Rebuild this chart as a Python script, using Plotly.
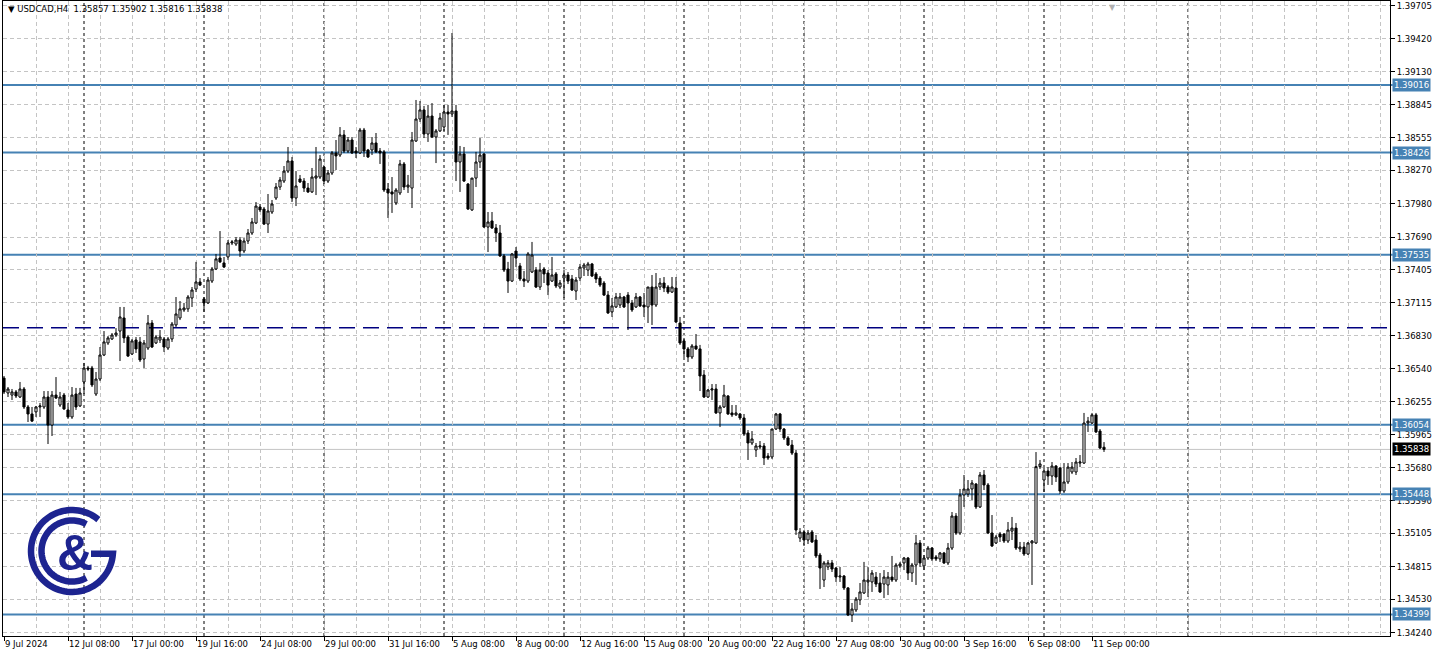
import numpy as np
import plotly.graph_objects as go

# ---------------- data (USDCAD H4) ----------------
opens = [
    1.36460, 1.36330, 1.36312, 1.36339, 1.36295, 1.36365, 1.36208, 1.36147, 1.36165, 1.36208,
    1.36208, 1.36295, 1.36050, 1.36312, 1.36225, 1.36312, 1.36182, 1.36121, 1.36321, 1.36217,
    1.36426, 1.36548, 1.36548, 1.36321, 1.36452, 1.36661, 1.36766, 1.36801, 1.36836, 1.36870,
    1.36984, 1.36818, 1.36670, 1.36792, 1.36775, 1.36626, 1.36722, 1.36940, 1.36766, 1.36792,
    1.36801, 1.36722, 1.36801, 1.36923, 1.36984, 1.37054, 1.37063, 1.37158, 1.37236, 1.37298,
    1.37150, 1.37115, 1.37306, 1.37411, 1.37507, 1.37464, 1.37516, 1.37638, 1.37629, 1.37664,
    1.37568, 1.37655, 1.37725, 1.37812, 1.37952, 1.37934, 1.37803, 1.37908, 1.38030, 1.38126,
    1.38178, 1.38265, 1.38353, 1.38030, 1.38196, 1.38178, 1.38117, 1.38083, 1.38204, 1.38213,
    1.38300, 1.38178, 1.38248, 1.38423, 1.38405, 1.38580, 1.38440, 1.38536, 1.38440, 1.38423,
    1.38623, 1.38449, 1.38449, 1.38510, 1.38440, 1.38432, 1.38109, 1.38083, 1.37987, 1.38074,
    1.38327, 1.38126, 1.38117, 1.38527, 1.38719, 1.38798, 1.38588, 1.38745, 1.38562, 1.38615,
    1.38649, 1.38780, 1.38763, 1.38789, 1.38344, 1.38414, 1.38152, 1.37926, 1.38204, 1.38344,
    1.38414, 1.37777, 1.37830, 1.37769, 1.37725, 1.37525, 1.37411, 1.37306, 1.37568, 1.37438,
    1.37324, 1.37306, 1.37385, 1.37402, 1.37254, 1.37411, 1.37376, 1.37306, 1.37368, 1.37254,
    1.37332, 1.37359, 1.37324, 1.37219, 1.37332, 1.37420, 1.37402, 1.37455, 1.37368, 1.37332,
    1.37289, 1.37184, 1.37037, 1.37080, 1.37097, 1.37167, 1.37184, 1.37115, 1.37080, 1.37167,
    1.37097, 1.37080, 1.37254, 1.37097, 1.37254, 1.37289, 1.37254, 1.37210, 1.37245, 1.36940,
    1.36784, 1.36714, 1.36644, 1.36740, 1.36714, 1.36487, 1.36295, 1.36356, 1.36365, 1.36156,
    1.36208, 1.36304, 1.36156, 1.36139, 1.36147, 1.36112, 1.35981, 1.35894, 1.35833, 1.35859,
    1.35868, 1.35780, 1.35772, 1.36016, 1.36147, 1.36016, 1.35938, 1.35876, 1.35806, 1.35065,
    1.35118, 1.35048, 1.35118, 1.35048, 1.34917, 1.34699, 1.34813, 1.34848, 1.34804, 1.34725,
    1.34734, 1.34630, 1.34394, 1.34438, 1.34525, 1.34586, 1.34682, 1.34682, 1.34725, 1.34673,
    1.34664, 1.34656, 1.34725, 1.34699, 1.34822, 1.34848, 1.34891, 1.34760, 1.34830, 1.35022,
    1.34822, 1.34891, 1.34978, 1.34900, 1.34883, 1.34935, 1.34848, 1.34978, 1.35257, 1.35109,
    1.35441, 1.35449, 1.35493, 1.35536, 1.35336, 1.35615, 1.35528, 1.35109, 1.35022, 1.35100,
    1.35100, 1.35039, 1.35126, 1.35152, 1.34970, 1.34987, 1.34926, 1.35022, 1.35022, 1.35688,
    1.35571, 1.35650, 1.35606, 1.35693, 1.35676, 1.35475, 1.35554, 1.35641, 1.35641, 1.35719,
    1.35719, 1.36068, 1.36068, 1.36139, 1.35998, 1.35857,
]
highs = [
    1.36478, 1.36382, 1.36365, 1.36356, 1.36426, 1.36382, 1.36225, 1.36208, 1.36217, 1.36243,
    1.36347, 1.36347, 1.36347, 1.36469, 1.36339, 1.36330, 1.36243, 1.36382, 1.36374, 1.36374,
    1.36592, 1.36566, 1.36566, 1.36513, 1.36731, 1.36870, 1.36827, 1.36853, 1.36896, 1.37080,
    1.37080, 1.36836, 1.36801, 1.36818, 1.36818, 1.36792, 1.37010, 1.36966, 1.36836, 1.36879,
    1.36818, 1.36818, 1.36949, 1.37167, 1.37132, 1.37115, 1.37184, 1.37254, 1.37473, 1.37332,
    1.37167, 1.37341, 1.37428, 1.37542, 1.37742, 1.37516, 1.37664, 1.37664, 1.37690, 1.37690,
    1.37681, 1.37760, 1.37856, 1.37995, 1.37978, 1.37952, 1.38065, 1.38013, 1.38161, 1.38213,
    1.38309, 1.38475, 1.38388, 1.38265, 1.38231, 1.38204, 1.38161, 1.38292, 1.38475, 1.38405,
    1.38309, 1.38274, 1.38440, 1.38536, 1.38649, 1.38623, 1.38562, 1.38562, 1.38475, 1.38641,
    1.38641, 1.38458, 1.38562, 1.38597, 1.38466, 1.38449, 1.38161, 1.38213, 1.38117, 1.38362,
    1.38344, 1.38231, 1.38606, 1.38885, 1.38876, 1.38833, 1.38842, 1.38858, 1.38632, 1.38772,
    1.38842, 1.38842, 1.39469, 1.38842, 1.38484, 1.38475, 1.38161, 1.38204, 1.38432, 1.38553,
    1.38423, 1.37908, 1.37908, 1.37803, 1.37795, 1.37542, 1.37473, 1.37551, 1.37603, 1.37464,
    1.37394, 1.37559, 1.37647, 1.37428, 1.37464, 1.37428, 1.37402, 1.37516, 1.37385, 1.37315,
    1.37402, 1.37385, 1.37359, 1.37341, 1.37455, 1.37464, 1.37473, 1.37464, 1.37385, 1.37350,
    1.37306, 1.37219, 1.37158, 1.37202, 1.37202, 1.37176, 1.37210, 1.37141, 1.37202, 1.37176,
    1.37202, 1.37254, 1.37359, 1.37376, 1.37332, 1.37341, 1.37271, 1.37341, 1.37341, 1.36993,
    1.36810, 1.36731, 1.36757, 1.36844, 1.36749, 1.36530, 1.36365, 1.36408, 1.36408, 1.36225,
    1.36400, 1.36312, 1.36225, 1.36225, 1.36156, 1.36147, 1.36007, 1.35998, 1.35894, 1.35911,
    1.35894, 1.35806, 1.36016, 1.36156, 1.36156, 1.36024, 1.35955, 1.35920, 1.35833, 1.35152,
    1.35135, 1.35135, 1.35135, 1.35092, 1.34935, 1.34865, 1.34874, 1.34874, 1.34813, 1.34813,
    1.34743, 1.34638, 1.34499, 1.34551, 1.34673, 1.34857, 1.34813, 1.34786, 1.34769, 1.34760,
    1.34786, 1.34769, 1.34909, 1.34848, 1.34857, 1.34900, 1.34900, 1.34848, 1.35092, 1.35048,
    1.34917, 1.34996, 1.34987, 1.34917, 1.34944, 1.34944, 1.35022, 1.35292, 1.35283, 1.35493,
    1.35615, 1.35571, 1.35571, 1.35545, 1.35641, 1.35658, 1.35545, 1.35266, 1.35092, 1.35118,
    1.35109, 1.35205, 1.35249, 1.35196, 1.35031, 1.35031, 1.35031, 1.35048, 1.35815, 1.35746,
    1.35676, 1.35684, 1.35728, 1.35702, 1.35684, 1.35719, 1.35719, 1.35728, 1.35763, 1.35789,
    1.36156, 1.36121, 1.36156, 1.36156, 1.36016, 1.35902,
]
lows = [
    1.36321, 1.36295, 1.36269, 1.36286, 1.36286, 1.36191, 1.36077, 1.36077, 1.36121, 1.36121,
    1.36191, 1.35885, 1.35955, 1.36278, 1.36208, 1.36182, 1.36104, 1.36104, 1.36182, 1.36208,
    1.36321, 1.36521, 1.36382, 1.36304, 1.36434, 1.36652, 1.36749, 1.36792, 1.36818, 1.36609,
    1.36766, 1.36644, 1.36661, 1.36679, 1.36600, 1.36548, 1.36705, 1.36722, 1.36757, 1.36766,
    1.36688, 1.36705, 1.36775, 1.36905, 1.36966, 1.37037, 1.37037, 1.37080, 1.37210, 1.37263,
    1.37037, 1.37106, 1.37289, 1.37402, 1.37464, 1.37420, 1.37490, 1.37620, 1.37612, 1.37516,
    1.37551, 1.37629, 1.37708, 1.37803, 1.37908, 1.37795, 1.37725, 1.37891, 1.38013, 1.38100,
    1.38161, 1.38248, 1.37995, 1.37960, 1.38161, 1.38083, 1.38074, 1.38074, 1.38056, 1.38196,
    1.38152, 1.38161, 1.38231, 1.38274, 1.38388, 1.38423, 1.38423, 1.38414, 1.38379, 1.38414,
    1.38388, 1.38379, 1.38405, 1.38423, 1.38327, 1.38083, 1.37856, 1.37900, 1.37969, 1.38056,
    1.38100, 1.38074, 1.37943, 1.38519, 1.38693, 1.38553, 1.38519, 1.38553, 1.38335, 1.38606,
    1.38615, 1.38580, 1.38737, 1.38178, 1.38083, 1.38170, 1.37926, 1.37917, 1.38126, 1.38292,
    1.37769, 1.37559, 1.37760, 1.37647, 1.37516, 1.37385, 1.37202, 1.37298, 1.37428, 1.37306,
    1.37254, 1.37289, 1.37376, 1.37245, 1.37228, 1.37289, 1.37184, 1.37298, 1.37245, 1.37236,
    1.37158, 1.37280, 1.37219, 1.37141, 1.37306, 1.37350, 1.37350, 1.37341, 1.37289, 1.37254,
    1.37176, 1.37019, 1.36993, 1.37071, 1.37071, 1.37071, 1.36879, 1.37037, 1.37071, 1.37080,
    1.36993, 1.36940, 1.36923, 1.37080, 1.37228, 1.37210, 1.37193, 1.37202, 1.36940, 1.36749,
    1.36644, 1.36600, 1.36626, 1.36705, 1.36347, 1.36286, 1.36286, 1.36269, 1.36147, 1.36033,
    1.36199, 1.36139, 1.36121, 1.36130, 1.36094, 1.35955, 1.35746, 1.35876, 1.35772, 1.35841,
    1.35702, 1.35746, 1.35754, 1.36007, 1.35990, 1.35920, 1.35868, 1.35789, 1.35092, 1.35031,
    1.35005, 1.35013, 1.35022, 1.34891, 1.34621, 1.34638, 1.34786, 1.34769, 1.34682, 1.34682,
    1.34612, 1.34385, 1.34333, 1.34420, 1.34481, 1.34577, 1.34551, 1.34595, 1.34638, 1.34586,
    1.34542, 1.34568, 1.34682, 1.34682, 1.34804, 1.34786, 1.34699, 1.34682, 1.34656, 1.34813,
    1.34786, 1.34874, 1.34865, 1.34865, 1.34857, 1.34839, 1.34830, 1.34961, 1.35092, 1.35092,
    1.35336, 1.35423, 1.35397, 1.35318, 1.35327, 1.35484, 1.35100, 1.34987, 1.35013, 1.35031,
    1.35022, 1.35022, 1.35048, 1.34961, 1.34944, 1.34909, 1.34917, 1.34656, 1.35013, 1.35667,
    1.35467, 1.35528, 1.35528, 1.35554, 1.35449, 1.35458, 1.35536, 1.35623, 1.35615, 1.35684,
    1.35711, 1.35990, 1.36059, 1.35981, 1.35841, 1.35816,
]
closes = [
    1.36339, 1.36365, 1.36339, 1.36304, 1.36365, 1.36208, 1.36147, 1.36085, 1.36208, 1.36217,
    1.36295, 1.36050, 1.36312, 1.36286, 1.36295, 1.36191, 1.36121, 1.36312, 1.36208, 1.36330,
    1.36548, 1.36539, 1.36400, 1.36452, 1.36661, 1.36775, 1.36810, 1.36836, 1.36853, 1.36993,
    1.36810, 1.36652, 1.36784, 1.36714, 1.36618, 1.36766, 1.36940, 1.36731, 1.36818, 1.36818,
    1.36731, 1.36801, 1.36931, 1.37019, 1.37063, 1.37071, 1.37167, 1.37228, 1.37298, 1.37271,
    1.37115, 1.37315, 1.37411, 1.37499, 1.37473, 1.37428, 1.37638, 1.37647, 1.37664, 1.37568,
    1.37655, 1.37725, 1.37821, 1.37960, 1.37926, 1.37803, 1.37917, 1.37978, 1.38126, 1.38187,
    1.38265, 1.38353, 1.38030, 1.38135, 1.38170, 1.38117, 1.38083, 1.38213, 1.38222, 1.38370,
    1.38178, 1.38248, 1.38423, 1.38397, 1.38580, 1.38440, 1.38536, 1.38423, 1.38423, 1.38623,
    1.38440, 1.38388, 1.38510, 1.38432, 1.38423, 1.38100, 1.38074, 1.38065, 1.38100, 1.38327,
    1.38126, 1.38143, 1.38536, 1.38719, 1.38798, 1.38588, 1.38745, 1.38562, 1.38615, 1.38728,
    1.38780, 1.38763, 1.38789, 1.38344, 1.38414, 1.38178, 1.37934, 1.38204, 1.38344, 1.38405,
    1.37777, 1.37821, 1.37769, 1.37725, 1.37525, 1.37402, 1.37306, 1.37542, 1.37507, 1.37324,
    1.37306, 1.37542, 1.37533, 1.37254, 1.37402, 1.37368, 1.37271, 1.37359, 1.37263, 1.37289,
    1.37359, 1.37306, 1.37228, 1.37315, 1.37428, 1.37446, 1.37455, 1.37350, 1.37324, 1.37271,
    1.37184, 1.37028, 1.37089, 1.37167, 1.37167, 1.37080, 1.37115, 1.37054, 1.37167, 1.37089,
    1.37080, 1.37254, 1.37097, 1.37254, 1.37289, 1.37245, 1.37210, 1.37254, 1.36949, 1.36766,
    1.36714, 1.36644, 1.36740, 1.36714, 1.36478, 1.36295, 1.36356, 1.36365, 1.36156, 1.36208,
    1.36312, 1.36147, 1.36139, 1.36156, 1.36112, 1.35972, 1.35894, 1.35929, 1.35868, 1.35868,
    1.35763, 1.35763, 1.36016, 1.36147, 1.36016, 1.35938, 1.35876, 1.35806, 1.35135, 1.35118,
    1.35048, 1.35109, 1.35031, 1.34909, 1.34804, 1.34848, 1.34848, 1.34795, 1.34725, 1.34734,
    1.34630, 1.34394, 1.34446, 1.34533, 1.34595, 1.34699, 1.34699, 1.34760, 1.34664, 1.34595,
    1.34725, 1.34725, 1.34699, 1.34830, 1.34839, 1.34891, 1.34760, 1.34830, 1.35022, 1.34848,
    1.34891, 1.34978, 1.34883, 1.34883, 1.34935, 1.34848, 1.34978, 1.35257, 1.35109, 1.35441,
    1.35493, 1.35493, 1.35545, 1.35336, 1.35615, 1.35528, 1.35109, 1.34996, 1.35074, 1.35074,
    1.35039, 1.35135, 1.35152, 1.34978, 1.34987, 1.34926, 1.35022, 1.35039, 1.35688, 1.35711,
    1.35650, 1.35606, 1.35693, 1.35597, 1.35475, 1.35554, 1.35684, 1.35684, 1.35728, 1.35728,
    1.36068, 1.36085, 1.36139, 1.35990, 1.35850, 1.35838,
]

date_tick_bars = [0, 16, 32, 48, 64, 80, 96, 112, 128, 144, 160, 176, 192, 208, 224, 240, 256, 272]
date_tick_labels = ["9 Jul 2024", "12 Jul 08:00", "17 Jul 00:00", "19 Jul 16:00", "24 Jul 08:00",
                    "29 Jul 00:00", "31 Jul 16:00", "5 Aug 08:00", "8 Aug 00:00", "12 Aug 16:00",
                    "15 Aug 08:00", "20 Aug 00:00", "22 Aug 16:00", "27 Aug 08:00", "30 Aug 00:00",
                    "3 Sep 16:00", "6 Sep 08:00", "11 Sep 00:00"]
price_ticks = [1.39705, 1.39420, 1.39130, 1.38845, 1.38555, 1.38270, 1.37980, 1.37690, 1.37405,
               1.37115, 1.36830, 1.36540, 1.36255, 1.35965, 1.35680, 1.35390, 1.35105, 1.34815,
               1.34530, 1.34240]
level_lines = [1.39016, 1.38426, 1.37535, 1.36054, 1.35448, 1.34399]
dashed_level = 1.36898
last_price = 1.35838
week_separator_bars = [20, 50, 80, 110, 140, 170, 200, 230, 260, 296]
header_text = "USDCAD,H4  1.35857 1.35902 1.35816 1.35838"

# ---------------- styling ----------------
FONT = "DejaVu Sans"
FS = 8.5
GRID = "#C4C4C4"
STEEL = "#4682B4"
NAVY = "#000080"
LOGO = "#1D2490"

x = list(range(len(opens)))

fig = go.Figure()
fig.add_trace(go.Candlestick(
    x=x, open=opens, high=highs, low=lows, close=closes,
    increasing=dict(line=dict(color="black", width=1), fillcolor="white"),
    decreasing=dict(line=dict(color="black", width=1), fillcolor="black"),
    whiskerwidth=0, hoverinfo="skip", showlegend=False,
))

shapes = []
for b in week_separator_bars:
    shapes.append(dict(type="line", xref="x", yref="paper", x0=b, x1=b, y0=0, y1=1,
                       line=dict(color="black", width=1, dash="3px,3px"), layer="between"))
for lv in level_lines:
    shapes.append(dict(type="line", xref="paper", yref="y", x0=0, x1=1.002, y0=lv, y1=lv,
                       line=dict(color=STEEL, width=2), layer="between"))
shapes.append(dict(type="line", xref="paper", yref="y", x0=0, x1=1.002, y0=dashed_level, y1=dashed_level,
                   line=dict(color=NAVY, width=1.5, dash="16px,8px"), layer="between"))
shapes.append(dict(type="line", xref="paper", yref="y", x0=0, x1=1, y0=last_price, y1=last_price,
                   line=dict(color=GRID, width=1), layer="between"))

# logo (G & G)
def arc(r, a0, a1, n=80):
    t = np.radians(np.linspace(a0, a1, n))
    return [(r * np.cos(v), r * np.sin(v)) for v in t]

def path_of(points):
    return "M " + " L ".join(f"{px:.2f},{py:.2f}" for px, py in points)

logo_cx, logo_cy = (72 - 3) / 1387, (636 - 551) / 635
outer = arc(41, 50, 356) + [(19, 41 * np.sin(np.radians(356)))]
inner = arc(30.5, 62, 298)
for pts in (outer, inner):
    shapes.append(dict(type="path", xref="paper", yref="paper", xsizemode="pixel", ysizemode="pixel",
                       xanchor=logo_cx, yanchor=logo_cy, path=path_of(pts),
                       line=dict(color=LOGO, width=6.5), layer="above"))

annotations = []
for lv in level_lines:
    annotations.append(dict(x=1, xref="paper", xanchor="left", xshift=2, y=lv, yref="y", yanchor="middle",
                            text=f"{lv:.5f}", showarrow=False, bgcolor=STEEL, borderpad=1,
                            font=dict(family=FONT, size=FS, color="white")))
annotations.append(dict(x=1, xref="paper", xanchor="left", xshift=2, y=last_price, yref="y", yanchor="middle",
                        text=f"{last_price:.5f}", showarrow=False, bgcolor="black", borderpad=1,
                        font=dict(family=FONT, size=FS, color="white")))
annotations.append(dict(x=0, xref="paper", xanchor="left", xshift=3, y=1, yref="paper", yanchor="top",
                        yshift=-1, text="▼ " + header_text, showarrow=False,
                        font=dict(family=FONT, size=FS, color="black")))
annotations.append(dict(x=(1112 - 3) / 1387, xref="paper", xanchor="center", y=1, yref="paper",
                        yanchor="top", yshift=0, text="▼", showarrow=False,
                        font=dict(family=FONT, size=8, color="#B0B0B0")))
annotations.append(dict(x=(75 - 3) / 1387, xref="paper", xanchor="center", y=(636 - 553) / 635,
                        yref="paper", yanchor="middle", text="<b>&</b>", showarrow=False,
                        font=dict(family="Liberation Sans", size=50, color=LOGO)))

fig.update_layout(
    width=1437, height=657,
    margin=dict(l=3, r=47, t=1, b=21, pad=0),
    paper_bgcolor="white", plot_bgcolor="white",
    font=dict(family=FONT, size=FS, color="black"),
    showlegend=False, hovermode=False,
    shapes=shapes, annotations=annotations,
    xaxis=dict(
        type="linear", range=[-0.25, 346.5], rangeslider=dict(visible=False),
        tickmode="array", tickvals=date_tick_bars, ticktext=date_tick_labels,
        ticklabelposition="outside right", tickangle=0,
        ticks="outside", ticklen=4, tickcolor="black", tickwidth=1,
        showgrid=True, gridcolor=GRID, griddash="4px,3px", gridwidth=1,
        minor=dict(tickmode="linear", tick0=0, dtick=8, showgrid=True, gridcolor=GRID,
                   griddash="4px,3px", gridwidth=1, ticks=""),
        showline=True, mirror=True, linecolor="black", linewidth=1, zeroline=False,
        tickfont=dict(family=FONT, size=FS, color="black"), fixedrange=True,
    ),
    yaxis=dict(
        range=[1.34211, 1.39748], side="right",
        tickmode="array", tickvals=price_ticks, ticktext=[f"{v:.5f}" for v in price_ticks],
        ticks="outside", ticklen=4, tickcolor="black", tickwidth=1,
        showgrid=True, gridcolor=GRID, griddash="4px,3px", gridwidth=1,
        showline=True, mirror=True, linecolor="black", linewidth=1, zeroline=False,
        tickfont=dict(family=FONT, size=FS, color="black"), fixedrange=True,
    ),
    boxgap=0.25,
)

fig.write_html("out.html", config={"displayModeBar": False, "staticPlot": True},
               post_script="document.body.style.margin='0px';document.body.style.padding='0px';")
